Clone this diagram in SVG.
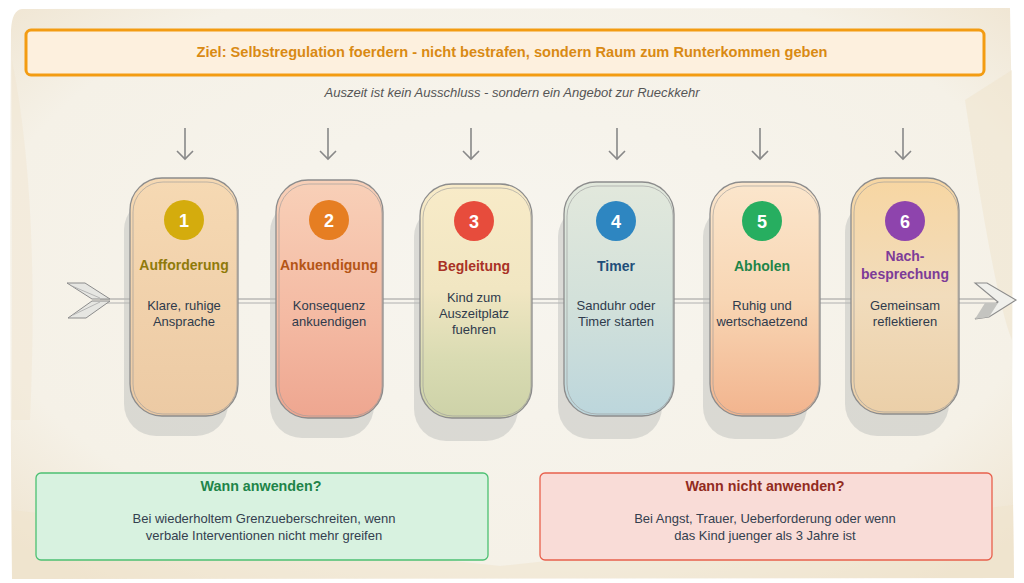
<svg xmlns="http://www.w3.org/2000/svg" width="1024" height="583" viewBox="0 0 1024 583">
<defs>
<radialGradient id="paper" cx="50%" cy="45%" r="70%">
<stop offset="0" stop-color="#f7f5ef"/>
<stop offset="0.75" stop-color="#f5f1e7"/>
<stop offset="1" stop-color="#efe4d0"/>
</radialGradient>
<linearGradient id="g1" x1="0" y1="0" x2="0" y2="1"><stop offset="0" stop-color="#f6d9b3"/><stop offset="1" stop-color="#eccaa4"/></linearGradient>
<linearGradient id="g2" x1="0" y1="0" x2="0" y2="1"><stop offset="0" stop-color="#f8d0b8"/><stop offset="0.6" stop-color="#f4b9a2"/><stop offset="1" stop-color="#eea690"/></linearGradient>
<linearGradient id="g3" x1="0" y1="0" x2="0" y2="1"><stop offset="0" stop-color="#f8ebc8"/><stop offset="0.45" stop-color="#f1e6c2"/><stop offset="0.75" stop-color="#d9dbb2"/><stop offset="1" stop-color="#cdd2a8"/></linearGradient>
<linearGradient id="g4" x1="0" y1="0" x2="0" y2="1"><stop offset="0" stop-color="#e2e8dc"/><stop offset="0.5" stop-color="#d3e1da"/><stop offset="1" stop-color="#bcd6dc"/></linearGradient>
<linearGradient id="g5" x1="0" y1="0" x2="0" y2="1"><stop offset="0" stop-color="#fbe6cc"/><stop offset="0.5" stop-color="#f8d6b4"/><stop offset="1" stop-color="#f2b48e"/></linearGradient>
<linearGradient id="g6" x1="0" y1="0" x2="0" y2="1"><stop offset="0" stop-color="#f7d6a2"/><stop offset="0.5" stop-color="#f1dcbc"/><stop offset="1" stop-color="#ebcfa8"/></linearGradient>
<marker id="down" markerWidth="20" markerHeight="14" refX="10" refY="12" orient="0" markerUnits="userSpaceOnUse">
<path d="M2,4 L10,12 L18,4" fill="none" stroke="#888" stroke-width="1.6"/>
</marker>
</defs>
<style>
.node{stroke:#8c8c8c;stroke-width:1.3}
.outline{fill:none;stroke:#9a9a9a;stroke-width:0.9;opacity:0.7}
.shadow{fill:#b9bbb7;opacity:0.45}
.num{font-family:"Liberation Sans",Arial,sans-serif;font-weight:bold;font-size:18px;fill:#fff;text-anchor:middle}
.title{font-family:"Liberation Sans",Arial,sans-serif;font-weight:bold;font-size:14px;text-anchor:middle}
.desc{font-family:"Liberation Sans",Arial,sans-serif;font-size:13px;fill:#2f3b4c;text-anchor:middle}
.down{stroke:#888;stroke-width:1.6;fill:none}
.btitle{font-family:"Liberation Sans",Arial,sans-serif;font-weight:bold;font-size:14.3px;text-anchor:middle}
.btext{font-family:"Liberation Sans",Arial,sans-serif;font-size:13px;fill:#34404f;text-anchor:middle}
</style>
<rect width="1024" height="583" fill="#ffffff"/>
<path d="M22,9 L1010,8 Q1014,200 1012,420 L1014,578 L12,579 Q9,300 11,30 Q12,10 22,9 Z" fill="url(#paper)"/>
<path d="M12,510 Q300,545 500,566 Q700,545 1013,505 L1014,578 L12,579 Z" fill="#efe3cc" opacity="0.5"/>
<path d="M965,100 Q995,300 1012,340 L1012,70 Z" fill="#efe3cc" opacity="0.5"/>
<path d="M12,60 Q40,200 30,420 L12,420 Z" fill="#efe3cc" opacity="0.4"/>

<g id="goal">
<rect x="26" y="30" width="958" height="45" rx="5" fill="#fdf0de" stroke="#f39c12" stroke-width="3"/>
<text x="512" y="57" text-anchor="middle" font-family="'Liberation Sans',Arial,sans-serif" font-weight="bold" font-size="14.5" fill="#d98a14" textLength="631" lengthAdjust="spacingAndGlyphs">Ziel: Selbstregulation foerdern - nicht bestrafen, sondern Raum zum Runterkommen geben</text>
</g>
<g id="subtitle">
<text x="512" y="97" text-anchor="middle" font-family="'Liberation Sans',Arial,sans-serif" font-style="italic" font-size="12.5" fill="#555" textLength="375" lengthAdjust="spacingAndGlyphs">Auszeit ist kein Ausschluss - sondern ein Angebot zur Rueckkehr</text>
</g>

<g id="connectors">
<line x1="185" y1="128" x2="185" y2="159" class="down" marker-end="url(#down)"/>
<line x1="328" y1="128" x2="328" y2="159" class="down" marker-end="url(#down)"/>
<line x1="471" y1="128" x2="471" y2="159" class="down" marker-end="url(#down)"/>
<line x1="617" y1="128" x2="617" y2="159" class="down" marker-end="url(#down)"/>
<line x1="760" y1="128" x2="760" y2="159" class="down" marker-end="url(#down)"/>
<line x1="903" y1="128" x2="903" y2="159" class="down" marker-end="url(#down)"/>
<line x1="100" y1="299" x2="1005" y2="299" stroke="#9a9a9a" stroke-width="1"/>
<line x1="100" y1="303" x2="1000" y2="303" stroke="#b0b0b0" stroke-width="1"/>
<path d="M67,283 L85,283 L110,299 L92,299 Z M68,318 L86,318 L110,301 L92,301 Z" fill="#e6e6e2" stroke="#8c8c8c" stroke-width="1"/>
<path d="M72,286 L100,298 M73,315 L100,302" stroke="#aaa" stroke-width="0.8" fill="none"/>
<path d="M975,283 L987,283 L1016,300 L989,317 L975,319 L998,302 Z" fill="#f0f0ec" stroke="#8c8c8c" stroke-width="1.1"/>
<path d="M975,319 L989,317 L998,303 L985,303 Z" fill="#c4c4c0"/>
</g>

<g id="node1">
<rect x="124" y="198" width="104" height="238" rx="32" class="shadow"/>
<rect x="130" y="178" width="108" height="238" rx="32" fill="url(#g1)" class="node"/>
<rect x="133" y="182" width="104" height="232" rx="30" class="outline"/>
<circle cx="184" cy="220" r="20" fill="#d4ac0d"/>
<text x="184" y="226.5" class="num">1</text>
<text x="184" y="270" class="title" fill="#8f7a0a">Aufforderung</text>
<text x="184" y="310" class="desc">Klare, ruhige</text>
<text x="184" y="326" class="desc">Ansprache</text>
</g>
<g id="node2">
<rect x="270" y="200" width="104" height="238" rx="32" class="shadow"/>
<rect x="276" y="180" width="107" height="238" rx="32" fill="url(#g2)" class="node"/>
<rect x="279" y="184" width="103" height="232" rx="30" class="outline"/>
<circle cx="329" cy="220" r="20" fill="#e67e22"/>
<text x="329" y="226.5" class="num">2</text>
<text x="329" y="270" class="title" fill="#b45516">Ankuendigung</text>
<text x="329" y="310" class="desc">Konsequenz</text>
<text x="329" y="326" class="desc">ankuendigen</text>
</g>
<g id="node3">
<rect x="414" y="205" width="104" height="236" rx="32" class="shadow"/>
<rect x="420" y="184" width="112" height="234" rx="32" fill="url(#g3)" class="node"/>
<rect x="423" y="188" width="108" height="228" rx="30" class="outline"/>
<circle cx="474" cy="221" r="20" fill="#e74c3c"/>
<text x="474" y="227.5" class="num">3</text>
<text x="474" y="271" class="title" fill="#a93226">Begleitung</text>
<text x="474" y="302" class="desc">Kind zum</text>
<text x="474" y="318" class="desc">Auszeitplatz</text>
<text x="474" y="334" class="desc">fuehren</text>
</g>
<g id="node4">
<rect x="558" y="205" width="104" height="234" rx="32" class="shadow"/>
<rect x="564" y="182" width="110" height="234" rx="32" fill="url(#g4)" class="node"/>
<rect x="567" y="186" width="106" height="228" rx="30" class="outline"/>
<circle cx="616" cy="221" r="20" fill="#2e86c1"/>
<text x="616" y="227.5" class="num">4</text>
<text x="616" y="271" class="title" fill="#1f4e79">Timer</text>
<text x="616" y="310" class="desc">Sanduhr oder</text>
<text x="616" y="326" class="desc">Timer starten</text>
</g>
<g id="node5">
<rect x="703" y="205" width="104" height="234" rx="32" class="shadow"/>
<rect x="710" y="182" width="110" height="234" rx="32" fill="url(#g5)" class="node"/>
<rect x="713" y="186" width="106" height="228" rx="30" class="outline"/>
<circle cx="762" cy="221" r="20" fill="#27ae60"/>
<text x="762" y="227.5" class="num">5</text>
<text x="762" y="271" class="title" fill="#1e8449">Abholen</text>
<text x="762" y="310" class="desc">Ruhig und</text>
<text x="762" y="326" class="desc">wertschaetzend</text>
</g>
<g id="node6">
<rect x="845" y="200" width="104" height="236" rx="32" class="shadow"/>
<rect x="851" y="178" width="108" height="236" rx="32" fill="url(#g6)" class="node"/>
<rect x="854" y="182" width="104" height="230" rx="30" class="outline"/>
<circle cx="905" cy="221" r="20" fill="#8e44ad"/>
<text x="905" y="227.5" class="num">6</text>
<text x="905" y="261" class="title" fill="#7d3c98">Nach-</text>
<text x="905" y="279" class="title" fill="#7d3c98">besprechung</text>
<text x="905" y="310" class="desc">Gemeinsam</text>
<text x="905" y="326" class="desc">reflektieren</text>
</g>

<g id="when">
<rect x="36" y="473" width="452" height="87" rx="5" fill="#d8f2e0" stroke="#4cc072" stroke-width="1.3"/>
<text x="261" y="491" class="btitle" fill="#1e8449">Wann anwenden?</text>
<text x="264" y="523" class="btext">Bei wiederholtem Grenzueberschreiten, wenn</text>
<text x="264" y="540" class="btext">verbale Interventionen nicht mehr greifen</text>
</g>
<g id="whennot">
<rect x="540" y="473" width="452" height="87" rx="5" fill="#f9dcd7" stroke="#e8604c" stroke-width="1.3"/>
<text x="765" y="491" class="btitle" fill="#922b21">Wann nicht anwenden?</text>
<text x="765" y="523" class="btext">Bei Angst, Trauer, Ueberforderung oder wenn</text>
<text x="765" y="540" class="btext">das Kind juenger als 3 Jahre ist</text>
</g>
</svg>
